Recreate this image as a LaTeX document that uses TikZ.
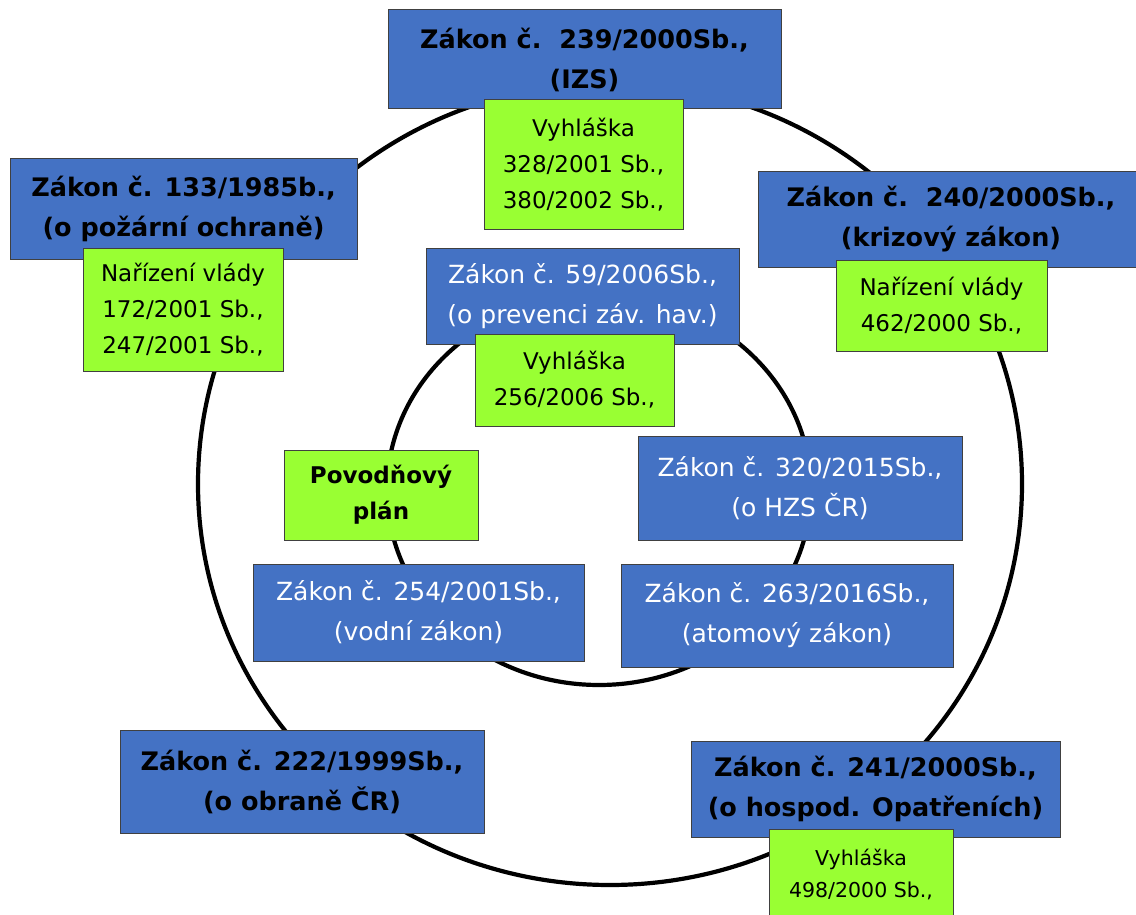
\documentclass[tikz,border=0pt]{standalone}
\usepackage{fontspec}
\setmainfont{DejaVu Sans}
\definecolor{lawblue}{HTML}{4472C4}
\definecolor{decreegreen}{HTML}{99FF33}
\tikzset{
  lawbold/.style={rectangle,draw=black!75,line width=1pt,fill=lawblue,align=center,inner sep=0pt,font=\fontsize{25.5}{40}\selectfont\bfseries},
  lawplain/.style={rectangle,draw=black!75,line width=1pt,fill=lawblue,align=center,inner sep=0pt,text=white,font=\fontsize{25}{40}\selectfont},
  decree/.style={rectangle,draw=black!75,line width=1pt,fill=decreegreen,align=center,inner sep=0pt,font=\fontsize{23}{36}\selectfont},
  ring/.style={draw=black,line width=4.2pt,line join=round}
}
\begin{document}
\begin{tikzpicture}[x=1pt,y=-1pt]
\useasboundingbox (0,0) rectangle (1136,915);
\clip (0,0) rectangle (1136,915);
\draw[ring] (610,484) ellipse [x radius=412pt, y radius=401pt];
\draw[ring] (599,490) ellipse [x radius=212pt, y radius=195pt];
\node at (584.5,59.5) [lawbold,minimum width=393pt,minimum height=99pt] (z239) {Zákon č.\ \ 239/2000Sb.,\\(IZS)};
\node at (583.5,164.5) [decree,minimum width=199pt,minimum height=129pt] (g239) {Vyhláška\\328/2001 Sb.,\\380/2002 Sb.,};
\node at (183.5,209) [lawbold,minimum width=347pt,minimum height=100pt] (z133) {Zákon č. 133/1985b.,\\(o požární ochraně)};
\node at (183,309.5) [decree,minimum width=200pt,minimum height=123pt] (g133) {Nařízení vlády\\172/2001 Sb.,\\247/2001 Sb.,};
\node at (951,219.5) [lawbold,minimum width=386pt,minimum height=95pt] (z240) {Zákon č.\ \ 240/2000Sb.,\\(krizový zákon)};
\node at (941.5,305.5) [decree,minimum width=211pt,minimum height=91pt] (g240) {Nařízení vlády\\462/2000 Sb.,};
\node at (582.5,296) [lawplain,minimum width=313pt,minimum height=96pt] (z59) {Zákon č. 59/2006Sb.,\\(o prevenci záv. hav.)};
\node at (574.5,380) [decree,minimum width=199pt,minimum height=92pt] (g59) {Vyhláška\\256/2006 Sb.,};
\node at (381,495) [decree,minimum width=194pt,minimum height=90pt,font=\fontsize{23}{36}\selectfont\bfseries] (povod) {Povodňový\\plán};
\node at (800,488) [lawplain,minimum width=324pt,minimum height=104pt] (z320) {Zákon č. 320/2015Sb.,\\(o HZS ČR)};
\node at (418.5,612.5) [lawplain,minimum width=331pt,minimum height=97pt] (z254) {Zákon č. 254/2001Sb.,\\(vodní zákon)};
\node at (787,615.5) [lawplain,minimum width=332pt,minimum height=103pt] (z263) {Zákon č. 263/2016Sb.,\\(atomový zákon)};
\node at (302,781.5) [lawbold,minimum width=364pt,minimum height=103pt] (z222) {Zákon č. 222/1999Sb.,\\(o obraně ČR)};
\node at (875.5,789) [lawbold,minimum width=369pt,minimum height=96pt] (z241) {Zákon č. 241/2000Sb.,\\(o hospod. Opatřeních)};
\node at (861,874) [decree,minimum width=184pt,minimum height=90pt,font=\fontsize{20.5}{32}\selectfont] (g241) {Vyhláška\\498/2000 Sb.,};
\end{tikzpicture}
\end{document}
